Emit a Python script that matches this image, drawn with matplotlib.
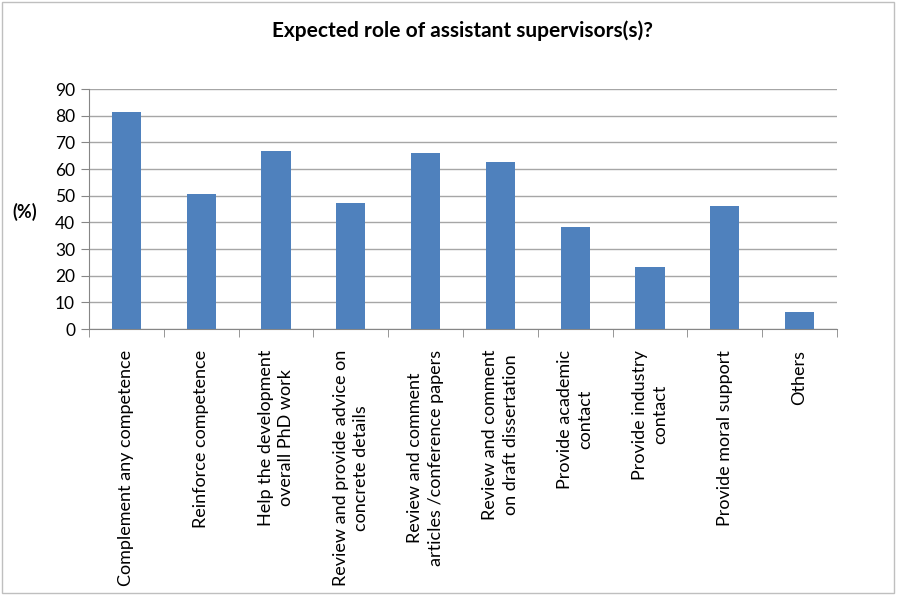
import matplotlib as mpl
mpl.use('Agg')
import matplotlib.pyplot as plt
import numpy as np

plt.rcParams["font.family"] = ["Lato", "DejaVu Sans"]

# Categories and percentages
categories = [
    "Complement any competence",
    "Reinforce competence",
    "Help the development\noverall PhD work",
    "Review and provide advice on\nconcrete details",
    "Review and comment\narticles /conference papers",
    "Review and comment\non draft dissertation",
    "Provide academic\ncontact",
    "Provide industry\ncontact",
    "Provide moral support",
    "Others",
]
percent = [81.2, 50.6, 66.9, 47.2, 65.9, 62.7, 38.4, 23.1, 46.1, 6.5]
yticks = list(range(0, 100, 10))

fig = plt.figure(figsize=(8.98, 5.95), dpi=100)
ax = fig.add_axes([89 / 898, 1 - 329 / 595, (837 - 89) / 898, (329 - 89) / 595])

x = np.arange(len(categories))
ax.bar(x, percent, width=0.39, color="#4F81BD", zorder=3)

ax.set_xlim(-0.5, len(categories) - 0.5)
ax.set_ylim(0, 90)
ax.set_yticks(yticks)
ax.tick_params(axis='y', labelsize=12.5, length=6, color="#868686", pad=4)
ax.yaxis.grid(True, color="#a6a6a6", linewidth=1, zorder=0)

# category labels, with tick marks between categories
ax.set_xticks(x)
ax.set_xticklabels(categories, rotation=90, fontsize=13, ha='center', va='top',
                   multialignment='center', linespacing=1.35)
ax.tick_params(axis='x', length=0, pad=15)
ax.set_xticks(np.arange(-0.5, len(categories), 1), minor=True)
ax.tick_params(axis='x', which='minor', length=6, color="#868686")

for side in ["top", "right"]:
    ax.spines[side].set_visible(False)
for side in ["left", "bottom"]:
    ax.spines[side].set_color("#868686")

fig.text(25 / 898, 1 - 212 / 595, "(%)", fontsize=13, fontweight='bold',
         ha='center', va='center')
fig.text(463 / 898, 1 - 31 / 595, "Expected role of assistant supervisors(s)?",
         fontsize=15, fontweight='bold', ha='center', va='center')

# light border round the whole chart
fig.patches.append(plt.Rectangle((0.002, 0.004), 0.994, 0.992, transform=fig.transFigure,
                                 fill=False, edgecolor="#bfbfbf", linewidth=1))

plt.savefig("out.png", dpi=100, facecolor='w')
